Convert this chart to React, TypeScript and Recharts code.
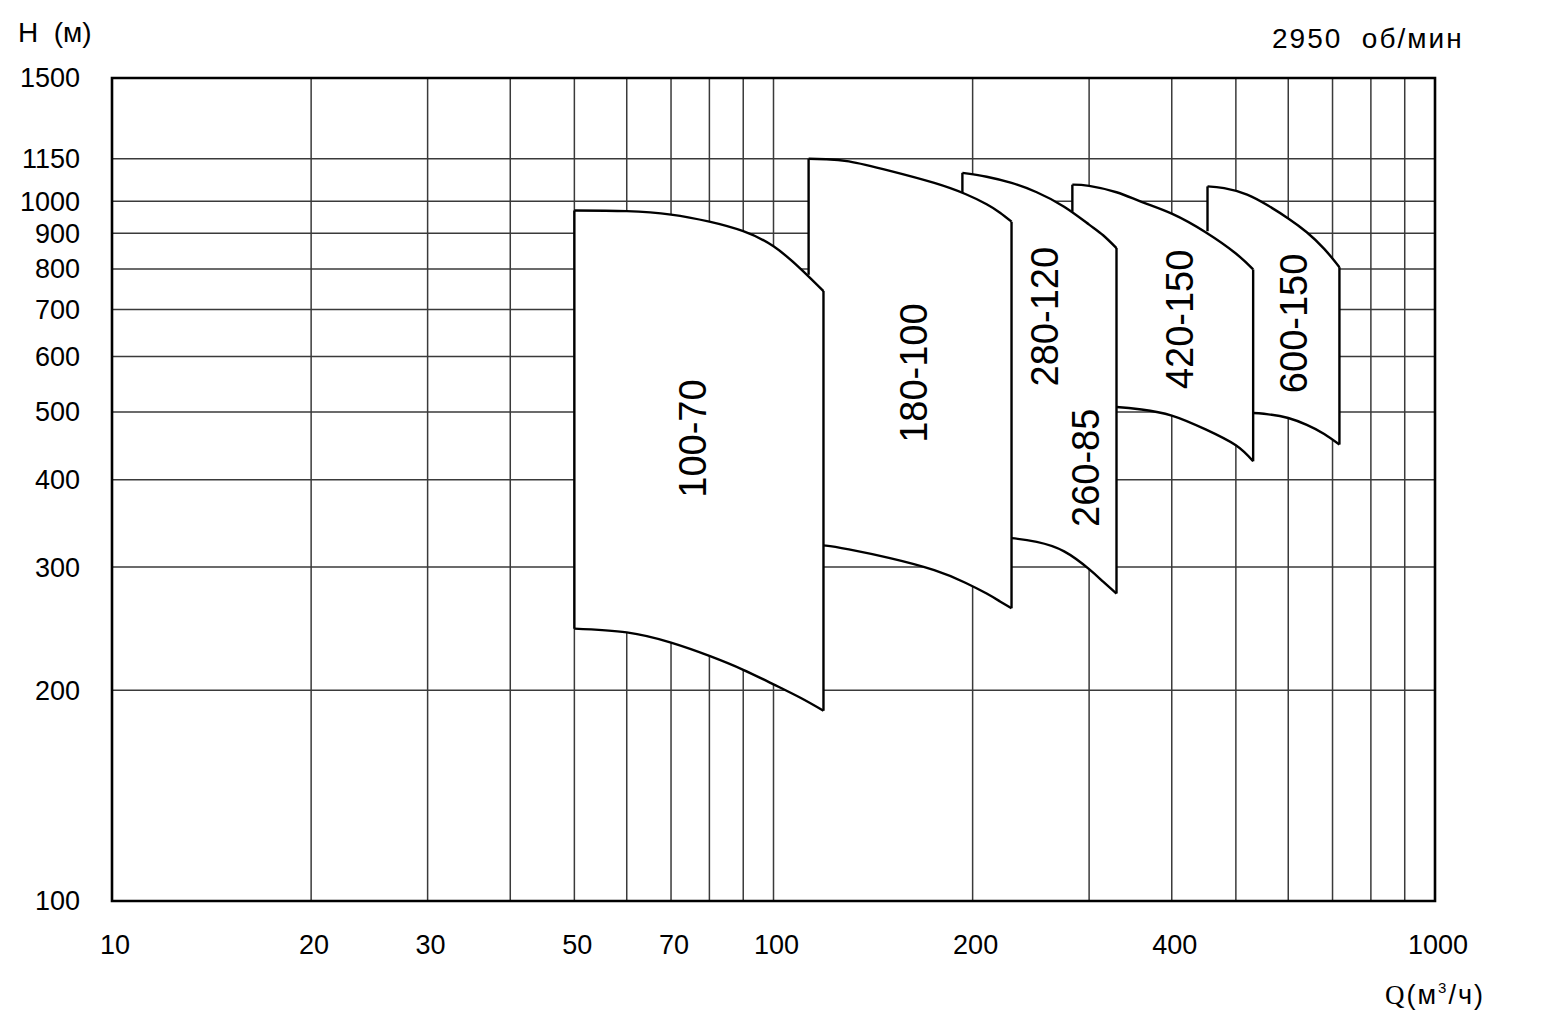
import React from "react"
import { ComposedChart, Area, Line, XAxis, YAxis, CartesianGrid, ReferenceArea, ReferenceDot } from "recharts"

// axis ticks
const qTicks = [10, 20, 30, 40, 50, 60, 70, 80, 90, 100, 200, 300, 400, 500, 600, 700, 800, 900, 1000]
const qLabels = [10, 20, 30, 50, 70, 100, 200, 400, 1000]
const hTicks = [100, 200, 300, 400, 500, 600, 700, 800, 900, 1000, 1150, 1500]

// pump working fields: Q (m3/h), upper head and lower head (m)
const q100_70 = [50, 60, 70, 80, 90, 100, 110, 119]
const hi100_70 = [970, 968, 957, 935, 906, 862, 800, 744]
const lo100_70 = [245, 242, 234, 224, 214, 204, 195, 187]

const q180_100 = [113, 120, 130, 150, 175, 195, 210, 220, 229]
const hi180_100 = [1150, 1148, 1140, 1105, 1062, 1024, 990, 963, 935]
const lo180_100 = [323, 322, 318, 309, 297, 285, 275, 268, 262]

const q260_85 = [193, 210, 229, 250, 275, 300, 315, 330]
const hi260_85 = [1098, 1084, 1062, 1030, 982, 926, 894, 857]
const lo260_85 = [333, 332, 330, 326, 316, 298, 286, 275]

const q420_150 = [283, 300, 330, 360, 400, 450, 500, 531]
const hi420_150 = [1056, 1052, 1030, 998, 960, 903, 842, 799]
const lo420_150 = [511, 510, 508, 504, 494, 472, 448, 425]

const q600_150 = [453, 480, 520, 560, 600, 640, 680, 717]
const hi600_150 = [1050, 1044, 1022, 985, 945, 903, 855, 805]
const lo600_150 = [502, 501, 499, 496, 490, 479, 465, 449]

// where each field's left edge disappears under the field drawn over it
const leftEdgeLow = [245, 785, 1028, 966, 906]

// field captions
const labelText = ["100-70", "180-100", "280-120", "260-85", "420-150", "600-150"]
const labelQ = [75.5, 163, 257, 297, 412, 613]
const labelH = [458, 568, 684, 416, 678, 669]

const fieldQ = [q100_70, q180_100, q260_85, q420_150, q600_150]
const fieldHi = [hi100_70, hi180_100, hi260_85, hi420_150, hi600_150]
const fieldLo = [lo100_70, lo180_100, lo260_85, lo420_150, lo600_150]

const W = 1560
const H = 1034
const font = "'Liberation Sans', Arial, sans-serif"
const LINE = 2.4

const rows = (i: number) => fieldQ[i].map((q, k) => ({ q, lo: fieldLo[i][k], hi: fieldHi[i][k] }))

const QTick = (props: any) => {
  const { x, y, payload } = props
  if (!qLabels.includes(payload.value)) return <g />
  return (
    <text x={x + 3} y={y + 44} dy="0.35em" textAnchor="middle" fontSize={27} fill="#000" fontFamily={font}>
      {payload.value}
    </text>
  )
}

const HTick = (props: any) => {
  const { x, y, payload } = props
  return (
    <text x={x - 32} y={y} dy="0.35em" textAnchor="end" fontSize={27} fill="#000" fontFamily={font}>
      {payload.value}
    </text>
  )
}

const fieldCaption = (text: string) => (props: any) => {
  const vb = props.viewBox || {}
  const cx = (vb.x || 0) + (vb.width || 0) / 2
  const cy = (vb.y || 0) + (vb.height || 0) / 2
  return (
    <text
      x={cx}
      y={cy}
      transform={`rotate(-90 ${cx} ${cy})`}
      textAnchor="middle"
      dominantBaseline="central"
      fontSize={38}
      fill="#000"
      fontFamily={font}
    >
      {text}
    </text>
  )
}

export default function App() {
  const order = [4, 3, 2, 1, 0]
  return (
    <div style={{ position: "absolute", left: 0, top: 0, width: W, height: H, background: "#fff" }}>
      <ComposedChart width={W} height={H} margin={{ top: 78, right: 125, left: 12, bottom: 73 }}>
        <CartesianGrid stroke="#3a3a3a" strokeWidth={1.5} />
        <XAxis
          dataKey="q"
          type="number"
          scale="log"
          domain={[10, 1000]}
          ticks={qTicks}
          interval={0}
          allowDataOverflow
          axisLine={false}
          tickLine={false}
          tickSize={0}
          tickMargin={0}
          height={60}
          tick={<QTick />}
        />
        <YAxis
          type="number"
          scale="log"
          domain={[100, 1500]}
          ticks={hTicks}
          interval={0}
          allowDataOverflow
          axisLine={false}
          tickLine={false}
          tickSize={0}
          tickMargin={0}
          width={100}
          tick={<HTick />}
        />
        {order.map((i) => (
          <Area
            key={"field" + i}
            data={rows(i)}
            dataKey={(d: any) => [d.lo, d.hi]}
            type="natural"
            stroke="#000"
            strokeWidth={LINE}
            fill="#fff"
            fillOpacity={1}
            dot={false}
            activeDot={false}
            isAnimationActive={false}
          />
        ))}
        {order.map((i) => (
          <Line
            key={"left" + i}
            data={[
              { q: fieldQ[i][0], h: fieldHi[i][0] },
              { q: fieldQ[i][0], h: leftEdgeLow[i] },
            ]}
            dataKey="h"
            type="linear"
            stroke="#000"
            strokeWidth={LINE}
            dot={false}
            activeDot={false}
            isAnimationActive={false}
          />
        ))}
        {order.map((i) => {
          const n = fieldQ[i].length - 1
          return (
            <Line
              key={"right" + i}
              data={[
                { q: fieldQ[i][n], h: fieldHi[i][n] },
                { q: fieldQ[i][n], h: fieldLo[i][n] },
              ]}
              dataKey="h"
              type="linear"
              stroke="#000"
              strokeWidth={LINE}
              dot={false}
              activeDot={false}
              isAnimationActive={false}
            />
          )
        })}
        <ReferenceArea x1={10} x2={1000} y1={100} y2={1500} fill="none" stroke="#000" strokeWidth={2.6} ifOverflow="visible" />
        {labelText.map((t, i) => (
          <ReferenceDot
            key={"cap" + i}
            x={labelQ[i]}
            y={labelH[i]}
            r={0}
            fill="none"
            stroke="none"
            ifOverflow="visible"
            label={fieldCaption(t)}
          />
        ))}
      </ComposedChart>
      <svg width={W} height={H} style={{ position: "absolute", left: 0, top: 0, pointerEvents: "none" }}>
        <text x={18} y={42} fontSize={28} fill="#000" fontFamily={font} style={{ whiteSpace: "pre" }}>
          {"H  (м)"}
        </text>
        <text x={1272} y={48} fontSize={28} fill="#000" fontFamily={font} letterSpacing={2} style={{ whiteSpace: "pre" }}>
          {"2950  об/мин"}
        </text>
        <text x={1385} y={1004} fontSize={27} fill="#000" fontFamily={font} letterSpacing={2}>
          <tspan fontFamily="'Liberation Serif', serif">Q</tspan>
          <tspan>(м</tspan>
          <tspan fontSize={15} dy={-11}>3</tspan>
          <tspan dy={11}>/ч)</tspan>
        </text>
      </svg>
    </div>
  )
}
